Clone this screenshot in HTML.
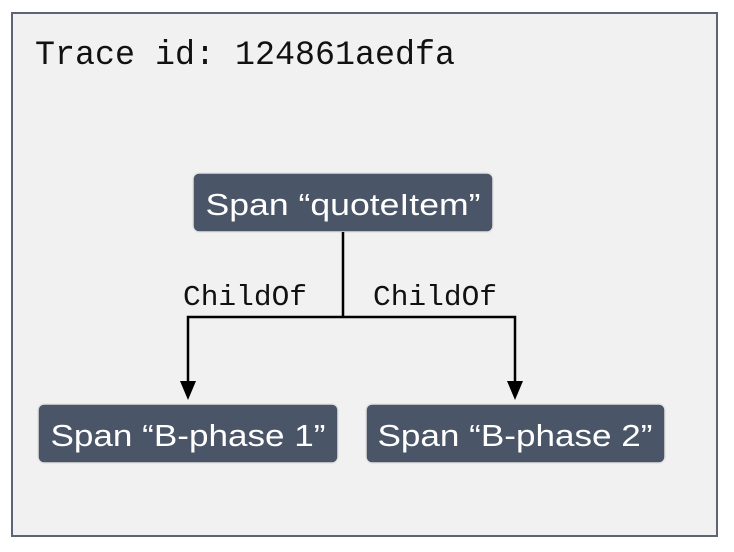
<!DOCTYPE html>
<html><head><style>
body{margin:0;width:734px;height:552px;background:#fff;overflow:hidden}
svg{display:block}
</style></head><body>
<svg width="734" height="552" xmlns="http://www.w3.org/2000/svg">
<rect x="12" y="13" width="705" height="523" fill="#f1f1f1" stroke="#5b6576" stroke-width="2"/>
<text x="35" y="64" font-family="Liberation Mono, monospace" font-size="34" fill="#111" textLength="420" lengthAdjust="spacingAndGlyphs">Trace id: 124861aedfa</text>
<g fill="#4a5568" stroke="#e2e2e2" stroke-width="1.5">
<rect x="193" y="173" width="300" height="59" rx="6"/>
<rect x="38" y="404" width="300" height="59" rx="6"/>
<rect x="366" y="404" width="299" height="59" rx="6"/>
</g>
<g font-family="Liberation Sans, sans-serif" font-size="31" fill="#fff" text-anchor="middle">
<text x="343" y="215" textLength="275" lengthAdjust="spacingAndGlyphs">Span “quoteItem”</text>
<text x="188" y="446" textLength="275" lengthAdjust="spacingAndGlyphs">Span “B-phase 1”</text>
<text x="515" y="446" textLength="275" lengthAdjust="spacingAndGlyphs">Span “B-phase 2”</text>
</g>
<g stroke="#000" stroke-width="2.5" fill="none">
<path d="M343 232 V317 M188 383 V317 H515 V383"/>
</g>
<path d="M180 381 L196 381 L188 400 Z M507 381 L523 381 L515 400 Z" fill="#000"/>
<g font-family="Liberation Mono, monospace" font-size="29" fill="#111">
<text x="183" y="305" textLength="124" lengthAdjust="spacingAndGlyphs">ChildOf</text>
<text x="373" y="305" textLength="124" lengthAdjust="spacingAndGlyphs">ChildOf</text>
</g>
</svg>
</body></html>
